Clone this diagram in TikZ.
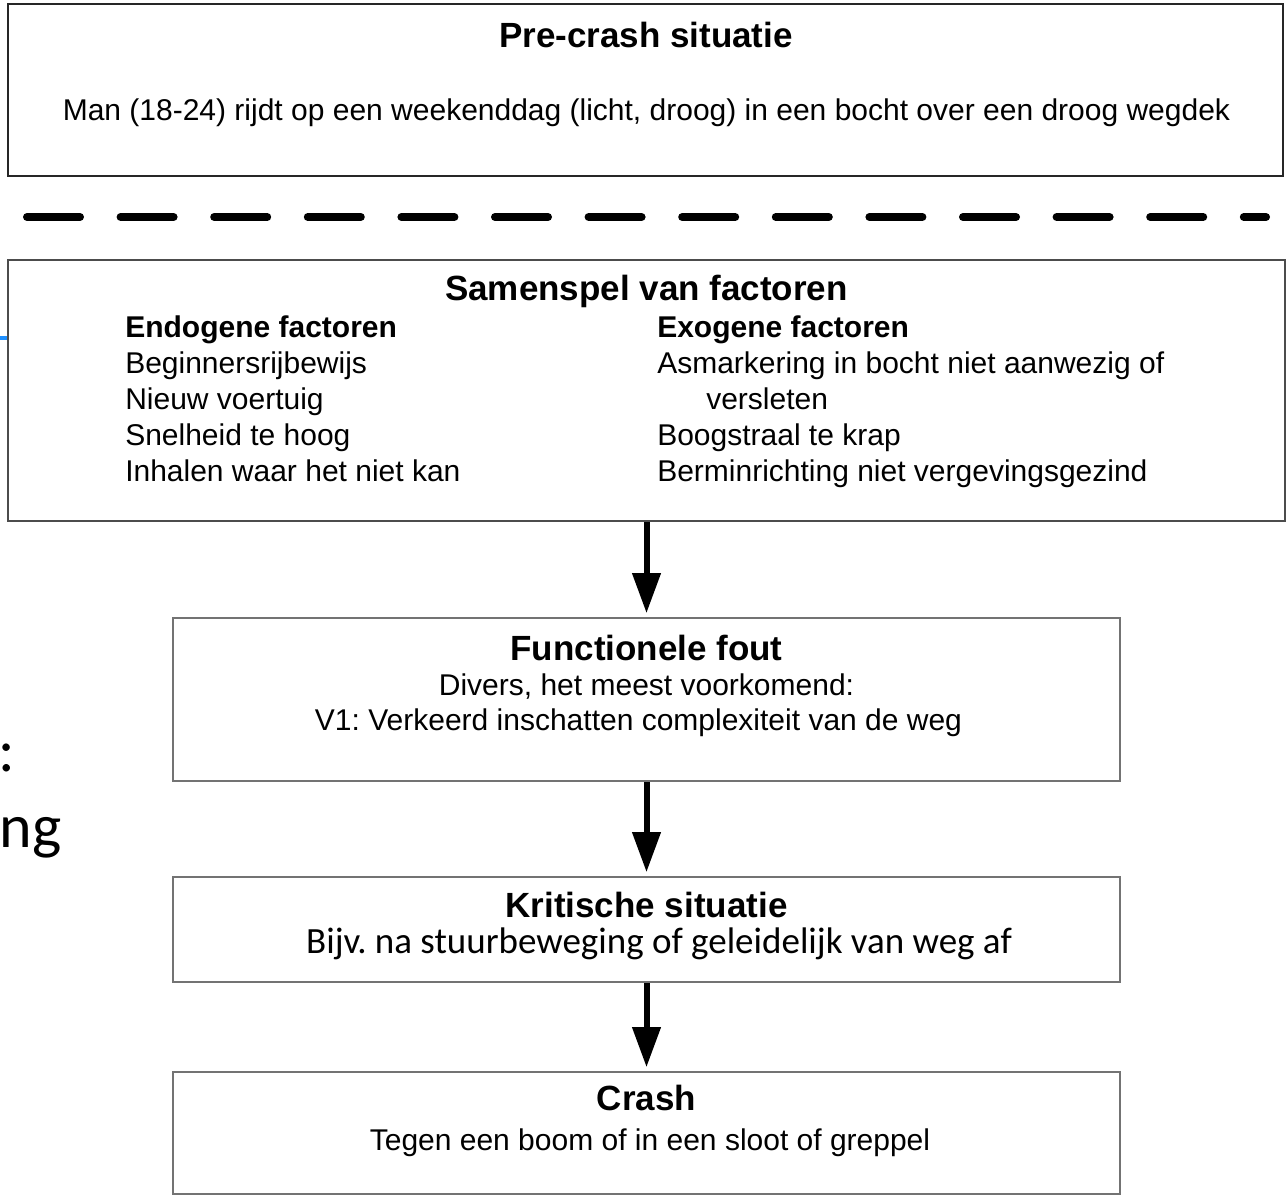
\documentclass[tikz,border=0pt]{standalone}
\usepackage{fontspec}
\setmainfont{Liberation Sans}
\newfontfamily\calib{Carlito}
\usetikzlibrary{arrows.meta}
\frenchspacing
\tikzset{
  x=0.75pt, y=-0.75pt,
  boxA/.style={draw=black!85, line width=1.5pt, rectangle, inner sep=0pt},
  boxB/.style={draw=black!55, line width=2.2pt, rectangle, inner sep=0pt},
  ttl/.style={anchor=base, inner sep=0pt, font=\fontsize{26.25pt}{30pt}\selectfont\bfseries},
  hdr/.style={anchor=base west, inner sep=0pt, font=\fontsize{22.5pt}{27pt}\selectfont\bfseries},
  txt/.style={anchor=base, inner sep=0pt, font=\fontsize{22.5pt}{27pt}\selectfont},
  txtl/.style={anchor=base west, inner sep=0pt, font=\fontsize{22.5pt}{27pt}\selectfont},
  flow/.style={line width=4.5pt, -{Triangle[width=20.5pt,length=30pt]}, shorten >=2.5pt},
}
\begin{document}
\begin{tikzpicture}
\frenchspacing
\useasboundingbox (0,0) rectangle (1287,1196);
% boxes
\node[boxA, minimum width=956.25pt, minimum height=129pt] (b1) at (645.5,90) {};
\node[boxA, draw=black!70, minimum width=957.75pt, minimum height=195.75pt] (b2) at (646.5,390.5) {};
\node[boxB, minimum width=710.25pt, minimum height=122.25pt] (b3) at (646.5,699.5) {};
\node[boxB, minimum width=710.25pt, minimum height=78.75pt] (b4) at (646.5,929.5) {};
\node[boxB, minimum width=710.25pt, minimum height=91.5pt] (b5) at (646.5,1133) {};
% dashed separator
\coordinate (d1) at (27,217);
\coordinate (d2) at (1266,217);
\draw[line width=6pt, line cap=round, dash pattern=on 39.75pt off 30.45pt] (d1) -- (d2);
% blue stub
\coordinate (bl1) at (0,338);
\coordinate (bl2) at (b2.west |- 0,338);
\draw[line width=3.5pt, color={rgb,255:red,30;green,144;blue,255}] (bl1) -- (bl2);
% box 1 text
\node[ttl] (t1) at (646,47) {Pre-crash situatie};
\node[txt] (t1a) at (646.5,120) {Man (18-24) rijdt op een weekenddag (licht, droog) in een bocht over een droog wegdek};
% box 2 text
\node[ttl] (t2) at (646.5,300) {Samenspel van factoren};
\node[hdr] (en) at (125,337) {Endogene factoren};
\node[txtl] (en1) at (125,373) {Beginnersrijbewijs};
\node[txtl] (en2) at (125,409) {Nieuw voertuig};
\node[txtl] (en3) at (125,445) {Snelheid te hoog};
\node[txtl] (en4) at (125,481) {Inhalen waar het niet kan};
\node[hdr] (ex) at (657,337) {Exogene factoren};
\node[txtl] (ex1) at (657,373) {Asmarkering in bocht niet aanwezig of};
\node[txtl] (ex1b) at (706,409) {versleten};
\node[txtl] (ex2) at (657,445) {Boogstraal te krap};
\node[txtl] (ex3) at (657,481) {Berminrichting niet vergevingsgezind};
% box 3 text
\node[ttl] (t3) at (646.5,660) {Functionele fout};
\node[txt] (t3a) at (646.5,695) {Divers, het meest voorkomend:};
\node[txt] (t3b) at (638.5,730) {V1: Verkeerd inschatten complexiteit van de weg};
% box 4 text
\node[ttl] (t4) at (646.5,917) {Kritische situatie};
\node[anchor=base, inner sep=0pt, font=\calib\fontsize{27.75pt}{32pt}\selectfont] (t4a) at (659,953) {Bijv. na stuurbeweging of geleidelijk van weg af};
% box 5 text
\node[ttl] (t5) at (646.5,1110) {Crash};
\node[txt] (t5a) at (650,1150) {Tegen een boom of in een sloot of greppel};
% background slide fragments
\node[anchor=base east, inner sep=0pt, font=\calib\fontsize{46.5pt}{50pt}\selectfont] (s1) at (15,771) {:};
\node[anchor=base east, inner sep=0pt, font=\calib\fontsize{46.5pt}{50pt}\selectfont] (s2) at (62,847) {ng};
% arrows
\draw[flow] (b2.south) -- (b3.north);
\draw[flow] (b3.south) -- (b4.north);
\draw[flow] (b4.south) -- (b5.north);
\end{tikzpicture}
\end{document}
